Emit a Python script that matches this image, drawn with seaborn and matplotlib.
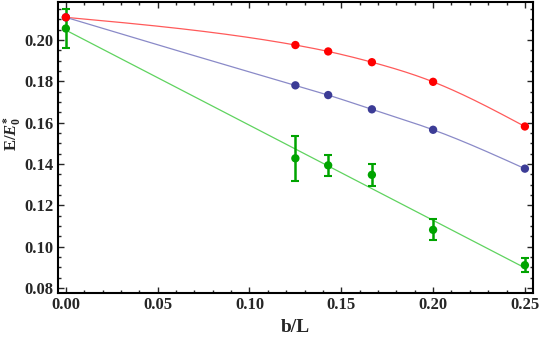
import numpy as np
import pandas as pd
import matplotlib
matplotlib.use('Agg')
import matplotlib.pyplot as plt
import seaborn as sns
from matplotlib.ticker import MultipleLocator, FormatStrFormatter

# dados
b_L = [0.0, 0.125, 1/7, 1/6, 0.2, 0.25]
E_red = [0.2110, 0.1976, 0.1945, 0.1893, 0.1798, 0.1582]
E_blue = [0.2110, 0.1781, 0.1734, 0.1665, 0.1566, 0.1378]
E_green = [0.2056, 0.1428, 0.1394, 0.1348, 0.1082, 0.0911]
err_green = [0.0096, 0.0110, 0.0050, 0.0052, 0.0050, 0.0035]


def spline(x, y, xs):
    # spline cubica natural pelos pontos
    x = np.asarray(x, float)
    y = np.asarray(y, float)
    n = len(x)
    h = np.diff(x)
    A = np.zeros((n, n))
    r = np.zeros(n)
    A[0, 0] = A[-1, -1] = 1
    for i in range(1, n - 1):
        A[i, i - 1] = h[i - 1]
        A[i, i] = 2 * (h[i - 1] + h[i])
        A[i, i + 1] = h[i]
        r[i] = 6 * ((y[i + 1] - y[i]) / h[i] - (y[i] - y[i - 1]) / h[i - 1])
    M = np.linalg.solve(A, r)
    k = np.clip(np.searchsorted(x, xs) - 1, 0, n - 2)
    t = xs - x[k]
    hk = h[k]
    a = (M[k + 1] - M[k]) / (6 * hk)
    b = M[k] / 2
    c = (y[k + 1] - y[k]) / hk - hk * (2 * M[k] + M[k + 1]) / 6
    return y[k] + c * t + b * t ** 2 + a * t ** 3


sns.set_style('ticks')
plt.rcParams['font.family'] = ['Liberation Serif', 'DejaVu Serif']
plt.rcParams['mathtext.fontset'] = 'custom'
plt.rcParams['mathtext.rm'] = 'Liberation Serif:bold'
plt.rcParams['mathtext.it'] = 'Liberation Serif:italic:bold'
plt.rcParams['mathtext.bf'] = 'Liberation Serif:bold'

fig = plt.figure(figsize=(5.4, 3.4), dpi=100)
ax = fig.add_axes([0.107, 0.138, 0.880, 0.856])

# curvas
xs = np.linspace(0, 0.25, 300)
curves = pd.DataFrame({
    'x': xs,
    'red': spline(b_L, E_red, xs),
    'blue': spline(b_L, E_blue, xs),
    'green': np.polyval(np.polyfit(b_L, E_green, 1), xs),
})
sns.lineplot(data=curves, x='x', y='red', color='#ff5a5a', lw=0.9, ax=ax)
sns.lineplot(data=curves, x='x', y='blue', color='#8a8ac8', lw=0.9, ax=ax)
sns.lineplot(data=curves, x='x', y='green', color='#5fd35f', lw=0.9, ax=ax)

# pontos
ax.errorbar(b_L, E_green, yerr=err_green, fmt='none', ecolor='#00a400',
            elinewidth=1.8, capsize=3, capthick=1.5, zorder=3)
sns.scatterplot(x=b_L, y=E_blue, color='#3c3c96', s=36, edgecolor='none', ax=ax, zorder=4)
sns.scatterplot(x=b_L, y=E_red, color='#ff0000', s=36, edgecolor='none', ax=ax, zorder=4)
sns.scatterplot(x=b_L, y=E_green, color='#00a400', s=36, edgecolor='none', ax=ax, zorder=5)

ax.set_xlim(-0.0044, 0.2544)
ax.set_ylim(0.0776, 0.2184)
ax.xaxis.set_major_locator(MultipleLocator(0.05))
ax.xaxis.set_minor_locator(MultipleLocator(0.01))
ax.yaxis.set_major_locator(MultipleLocator(0.02))
ax.yaxis.set_minor_locator(MultipleLocator(0.005))
ax.xaxis.set_major_formatter(FormatStrFormatter('%.2f'))
ax.yaxis.set_major_formatter(FormatStrFormatter('%.2f'))
ax.tick_params(which='both', direction='in', top=True, right=True, width=1.0)
ax.tick_params(which='major', length=4, labelsize=12, pad=3)
ax.tick_params(which='minor', length=2)
for lab in ax.get_xticklabels() + ax.get_yticklabels():
    lab.set_fontweight('bold')
for s in ax.spines.values():
    s.set_linewidth(1.5)
    s.set_color('black')

ax.set_xlabel('b/L', fontsize=14, fontweight='bold', labelpad=4)
ax.set_ylabel(r'E/$E_0^{*}$', fontsize=12, fontweight='bold')
ax.yaxis.set_label_coords(-0.072, 0.55)

fig.savefig('out.png', dpi=100)
